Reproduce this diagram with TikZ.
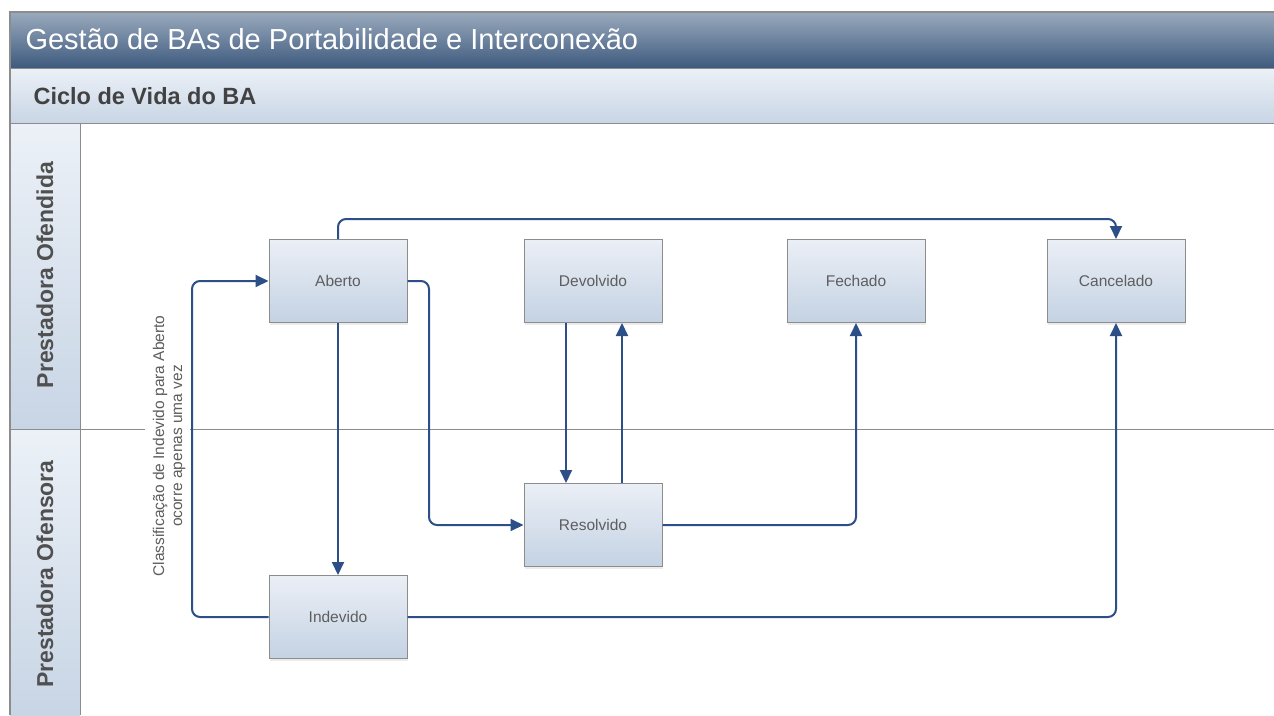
\documentclass[tikz,border=0pt]{standalone}
\usepackage{fontspec}
\setmainfont{Liberation Sans}
\usetikzlibrary{arrows.meta,shadows}
\definecolor{conn}{HTML}{2B4F86}
\definecolor{boxtop}{HTML}{EBEFF6}
\definecolor{boxbot}{HTML}{C4D2E3}
\definecolor{titletop}{HTML}{9AAABD}
\definecolor{titlebot}{HTML}{3E5A7E}
\definecolor{subtop}{HTML}{ECF1F7}
\definecolor{subbot}{HTML}{C8D5E5}
\definecolor{framegray}{HTML}{8C8C8C}
\definecolor{txtgray}{HTML}{5E5E5E}
\tikzset{
  x=1pt, y=-1pt,
  state/.style={draw=framegray, line width=1pt, top color=boxtop, bottom color=boxbot,
    minimum width=138pt, minimum height=83pt, inner sep=0pt,
    drop shadow={shadow xshift=1pt, shadow yshift=-2pt, fill=black!12, opacity=0.6},
    font=\fontsize{15.5}{18}\selectfont, text=txtgray},
  flow/.style={draw=conn, line width=2pt, rounded corners=8pt,
    -{Triangle[length=13pt,width=12pt]}},
  lanelabel/.style={rotate=90, font=\bfseries\fontsize{23}{27}\selectfont, text=txtgray!85!black},
}
\begin{document}
\begin{tikzpicture}
\useasboundingbox (0,0) rectangle (1274,715);
\fill[white] (0,0) rectangle (1274,715);
% title bar
\shade[top color=titletop, bottom color=titlebot] (10,12) rectangle (1274,68);
\node[anchor=west, text=white, font=\fontsize{29}{33}\selectfont] (title) at (22,39) {Gestão de BAs de Portabilidade e Interconexão};
% sub header
\shade[top color=subtop, bottom color=subbot] (10,68) rectangle (1274,123);
\node[anchor=west, text=txtgray!70!black, font=\bfseries\fontsize{23.5}{27}\selectfont] (sub) at (30,96) {Ciclo de Vida do BA};
% lane headers
\shade[top color=subtop, bottom color=subbot] (10,123) rectangle (80,429);
\shade[top color=subtop, bottom color=subbot] (10,429) rectangle (80,715);
\draw[framegray, line width=1pt] (80,123) -- (80,715);
\draw[framegray, line width=1pt] (10,68) -- (1274,68);
\draw[framegray, line width=1pt] (10,123) -- (1274,123);
\draw[framegray, line width=1pt] (10,429) -- (145,429);
\draw[framegray, line width=1pt] (190,429) -- (1274,429);
\draw[framegray, line width=1.2pt] (10,715) -- (10,12) -- (1274,12);
\node[lanelabel] (lane1) at (45,275) {Prestadora Ofendida};
\node[lanelabel] (lane2) at (45,574) {Prestadora Ofensora};
% states
\node[state] (aberto) at (338,281) {Aberto};
\node[state] (devolvido) at (593,281) {Devolvido};
\node[state] (fechado) at (856,281) {Fechado};
\node[state] (cancelado) at (1116,281) {Cancelado};
\node[state] (resolvido) at (593,525) {Resolvido};
\node[state] (indevido) at (338,617) {Indevido};
% connectors
\draw[flow] (aberto.north) -- ++(0,-20) -| (cancelado.north);
\draw[flow] (aberto.south) -- (indevido.north);
\draw[flow] (aberto.east) -- (429,281) |- (resolvido.west);
\draw[flow] ([xshift=-27pt]devolvido.south) -- ([xshift=-27pt]resolvido.north);
\draw[flow] ([xshift=29pt]resolvido.north) -- ([xshift=29pt]devolvido.south);
\draw[flow] (resolvido.east) -| (fechado.south);
\draw[flow] (indevido.west) -- (192,617) |- (aberto.west);
\draw[flow] (indevido.east) -| (cancelado.south);
% note
\node[rotate=90, align=center, text=txtgray, font=\fontsize{15.5}{18}\selectfont, inner sep=1pt] (note) at (169,446) {Classificação de Indevido para Aberto\\ocorre apenas uma vez};
\end{tikzpicture}
\end{document}
